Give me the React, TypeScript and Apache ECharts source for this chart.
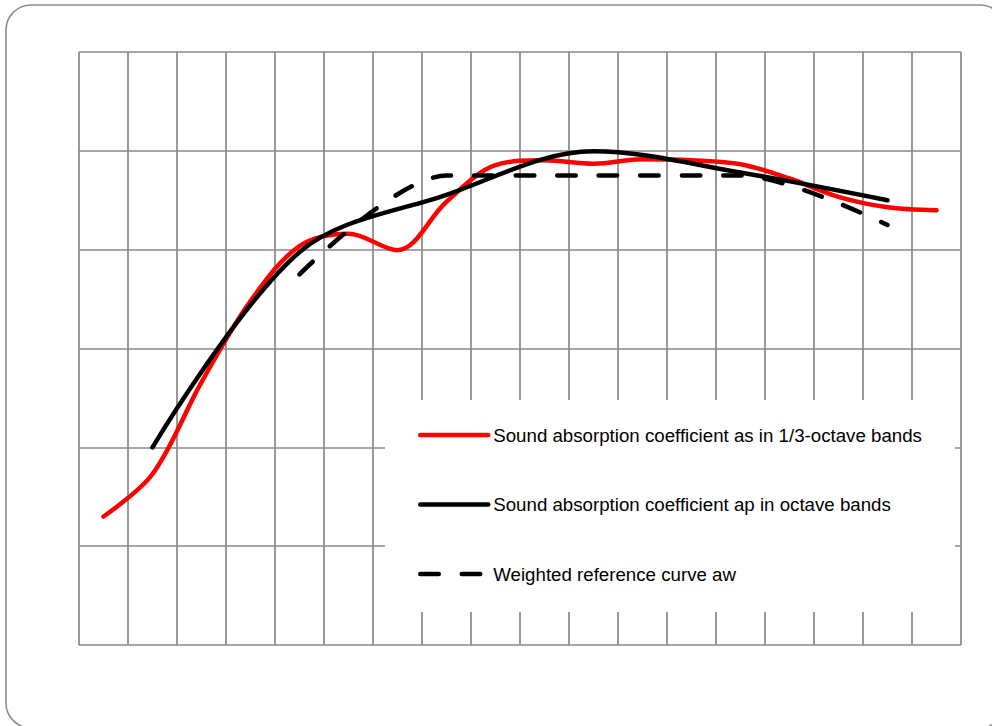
import React, { useEffect, useRef } from "react";
import * as echarts from "echarts";

// 1/3-octave band positions (category centres 0.5 .. 17.5)
const thirdOctavePos = [0.5, 1.5, 2.5, 3.5, 4.5, 5.5, 6.5, 7.5, 8.5, 9.5, 10.5, 11.5, 12.5, 13.5, 14.5, 15.5, 16.5, 17.5];
const alphaS = [0.26, 0.346, 0.532, 0.696, 0.807, 0.832, 0.799, 0.897, 0.971, 0.981, 0.974, 0.983, 0.981, 0.973, 0.944, 0.907, 0.886, 0.88];

// octave band positions
const octavePos = [1.5, 4.5, 7.5, 10.5, 13.5, 16.5];
const alphaP = [0.4, 0.795, 0.911, 0.999, 0.956, 0.9];

// weighted reference curve
const refPos = [4.5, 7.5, 10.5, 13.5, 16.5];
const alphaW = [0.75, 0.95, 0.95, 0.95, 0.85];

const seriesNames = [
  "Sound absorption coefficient as in 1/3-octave bands",
  "Sound absorption coefficient ap in octave bands",
  "Weighted reference curve aw",
];

const pairs = (xs: number[], ys: number[]) => xs.map((x, i) => [x, ys[i]]);

export default function App() {
  const ref = useRef<HTMLDivElement>(null);
  useEffect(() => {
    if (!ref.current) return;
    const chart = echarts.init(ref.current, null, { renderer: "svg" });
    const gridColor = "#888888";
    chart.setOption({
      animation: false,
      backgroundColor: "#ffffff",
      grid: { left: 79, top: 52, width: 882, height: 593, containLabel: false },
      xAxis: {
        type: "value",
        min: 0,
        max: 18,
        interval: 1,
        axisLine: { show: false },
        axisTick: { show: false },
        axisLabel: { show: false },
        splitLine: { show: true, lineStyle: { color: gridColor, width: 1.7 } },
      },
      yAxis: {
        type: "value",
        min: 0,
        max: 1.2,
        interval: 0.2,
        axisLine: { show: false },
        axisTick: { show: false },
        axisLabel: { show: false },
        splitLine: { show: true, lineStyle: { color: gridColor, width: 1.7 } },
      },
      legend: {
        show: true,
        orient: "vertical",
        left: 418,
        top: 425,
        padding: 0,
        itemWidth: 68,
        itemHeight: 14,
        itemGap: 49.5,
        selectedMode: false,
        data: seriesNames,
        lineStyle: { width: 4.5 },
        itemStyle: { opacity: 0, borderWidth: 0 },
        textStyle: {
          fontFamily: "'Liberation Sans', Arial, sans-serif",
          fontSize: 18.7,
          lineHeight: 20,
          color: "#000",
        },
      },
      graphic: [
        {
          type: "rect",
          z: 1,
          silent: true,
          shape: { x: 385, y: 400, width: 570, height: 212 },
          style: { fill: "#ffffff", stroke: "none" },
        },
        {
          type: "rect",
          z: 10,
          silent: true,
          shape: { x: 6, y: 5, width: 999, height: 723, r: 25 },
          style: { fill: "none", stroke: "#8c8c8c", lineWidth: 1.6 },
        },
      ],
      series: [
        {
          name: seriesNames[0],
          type: "line",
          data: pairs(thirdOctavePos, alphaS),
          smooth: 0.34,
          symbol: "none",
          showSymbol: false,
          z: 3,
          lineStyle: { color: "#ff0000", width: 4.5, cap: "round", join: "round" },
          itemStyle: { color: "#ff0000" },
        },
        {
          name: seriesNames[1],
          type: "line",
          data: pairs(octavePos, alphaP),
          smooth: 0.34,
          symbol: "none",
          showSymbol: false,
          z: 4,
          lineStyle: { color: "#000000", width: 4.5, cap: "round", join: "round" },
          itemStyle: { color: "#000000" },
        },
        {
          name: seriesNames[2],
          type: "line",
          data: pairs(refPos, alphaW),
          smooth: 0.3,
          symbol: "none",
          showSymbol: false,
          z: 4,
          lineStyle: { color: "#000000", width: 4.5, type: [18.5, 23], cap: "round", join: "round" },
          itemStyle: { color: "#000000" },
        },
      ],
    });
    return () => chart.dispose();
  }, []);
  return (
    <div
      ref={ref}
      style={{ position: "fixed", left: 0, top: 0, width: 992, height: 726, background: "#fff" }}
    />
  );
}
